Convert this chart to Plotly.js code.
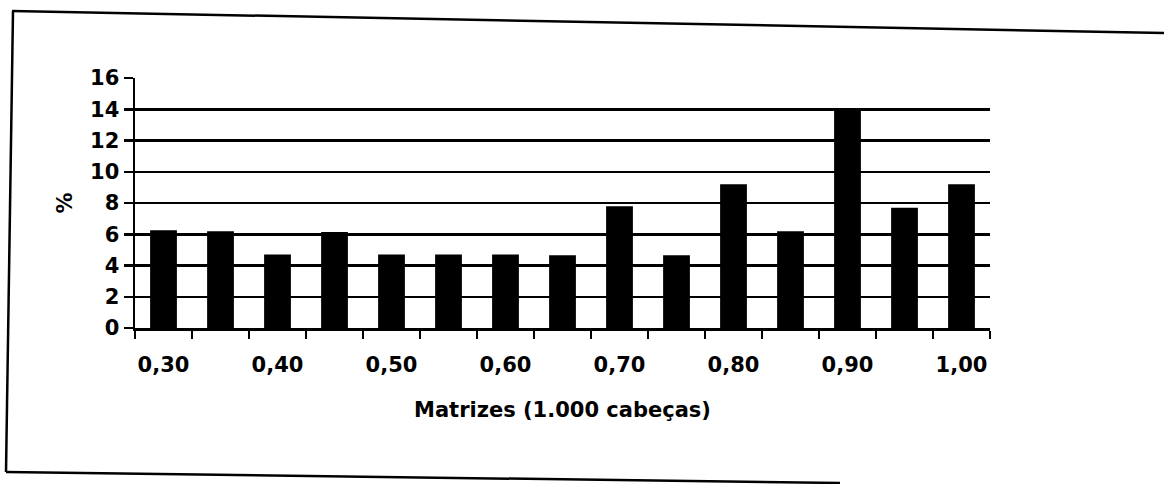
<!DOCTYPE html>
<html>
<head>
<meta charset="utf-8">
<script src="https://cdn.plot.ly/plotly-3.0.1.min.js"></script>
<style>
  html, body { margin: 0; padding: 0; background: #ffffff; }
  #chart { width: 1164px; height: 484px; }
</style>
</head>
<body>
<div id="chart"></div>
<script>
// Categories (Matrizes, 1.000 cabeças)
const categories = ["0,30","0,35","0,40","0,45","0,50","0,55","0,60","0,65","0,70","0,75","0,80","0,85","0,90","0,95","1,00"];
// Tick labels shown (every other category)
const tickLabels = ["0,30","","0,40","","0,50","","0,60","","0,70","","0,80","","0,90","","1,00"];
// Percentage per category
const percentValues = [6.25, 6.2, 4.7, 6.15, 4.7, 4.7, 4.7, 4.65, 7.8, 4.65, 9.2, 6.2, 13.9, 7.7, 9.2];
// Y-axis ticks
const yTickValues = [0, 2, 4, 6, 8, 10, 12, 14, 16];

const W = 1164, H = 484;
const M = { l: 135, r: 174, t: 78, b: 156 };
const pw = W - M.l - M.r, ph = H - M.t - M.b;
function px(x) { return (x - M.l) / pw; }
function py(y) { return 1 - (y - M.t) / ph; }

function frameLine(x0, y0, x1, y1) {
  return { type: 'line', xref: 'paper', yref: 'paper',
           x0: px(x0), y0: py(y0), x1: px(x1), y1: py(y1),
           line: { color: '#000', width: 2.5 } };
}

const font = "DejaVu Sans, Arial, sans-serif";

const trace = {
  type: 'bar',
  x: categories,
  y: percentValues,
  marker: { color: '#000000', line: { width: 0 } },
  hoverinfo: 'x+y'
};

const layout = {
  width: W, height: H,
  margin: M,
  paper_bgcolor: '#ffffff',
  plot_bgcolor: '#ffffff',
  showlegend: false,
  bargap: 0.53,
  font: { family: font, color: '#000', size: 18 },
  xaxis: {
    type: 'category',
    tickvals: categories,
    ticktext: tickLabels,
    tickson: 'boundaries',
    tickangle: 0,
    ticks: 'outside', ticklen: 8, tickwidth: 2.5, tickcolor: '#000',
    showline: true, linecolor: '#000', linewidth: 2.5,
    showgrid: false, zeroline: false,
    tickfont: { family: font, size: 21, color: '#000', weight: 'bold' },
    ticklabelstandoff: 16,
    title: { text: 'Matrizes (1.000 cabeças)', standoff: 27,
             font: { family: font, size: 21, color: '#000', weight: 'bold' } },
    automargin: false
  },
  yaxis: {
    range: [0, 16],
    tickvals: yTickValues,
    ticktext: yTickValues.map(String),
    ticks: 'outside', ticklen: 9, tickwidth: 2.5, tickcolor: '#000',
    showline: true, linecolor: '#000', linewidth: 2.5,
    showgrid: true, gridcolor: '#000', gridwidth: 2.5,
    zeroline: false,
    tickfont: { family: font, size: 21, color: '#000', weight: 'bold' },
    title: { text: '%', standoff: 12,
             font: { family: font, size: 21, color: '#000', weight: 'bold' } },
    automargin: false
  },
  shapes: [
    frameLine(12, 11, 1164, 33),
    frameLine(13, 11, 6, 472),
    frameLine(6, 472, 840, 483)
  ]
};

Plotly.newPlot('chart', [trace], layout, { displayModeBar: false, staticPlot: true });
</script>
</body>
</html>
